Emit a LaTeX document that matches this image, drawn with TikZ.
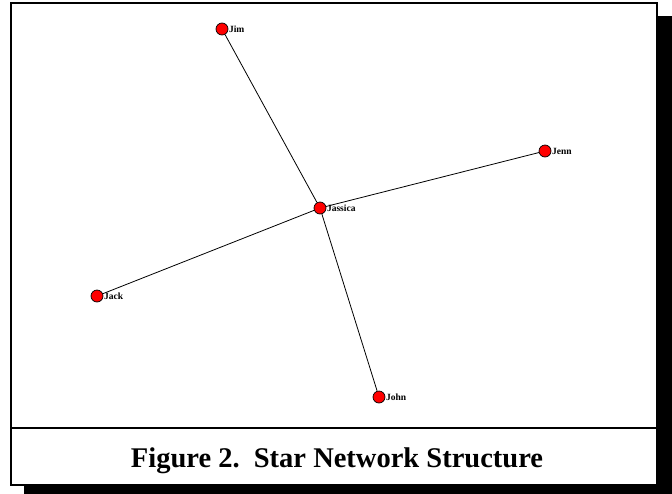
\documentclass[tikz,border=0pt]{standalone}
\usepackage{fontspec}
\setmainfont{Liberation Serif}
\begin{document}
\begin{tikzpicture}[x=1pt,y=-1pt,
  vertex/.style={circle,draw=black,fill=red,line width=0.7pt,minimum size=12pt,inner sep=0pt},
  vlabel/.style={font=\bfseries\fontsize{9.5}{10}\selectfont,anchor=west,inner sep=0pt,xshift=0.5pt},
  edge/.style={line width=0.8pt,black}]
\useasboundingbox (0,0) rectangle (672,493);
% drop shadow and frame
\fill[black] (24,16) rectangle (672,500);
\draw[fill=white,line width=2.2pt] (11,3) rectangle (657,485);
\draw[line width=2.2pt] (11,428) -- (657,428);
% graph
\node[vertex] (jassica) at (320,208) {};
\node[vertex] (jim) at (222,29) {};
\node[vertex] (jenn) at (545,151) {};
\node[vertex] (jack) at (97,296) {};
\node[vertex] (john) at (379,397) {};
\draw[edge] (jassica) -- (jim);
\draw[edge] (jassica) -- (jenn);
\draw[edge] (jassica) -- (jack);
\draw[edge] (jassica) -- (john);
\node[vlabel] at (jassica.east) {Jassica};
\node[vlabel] at (jim.east) {Jim};
\node[vlabel] at (jenn.east) {Jenn};
\node[vlabel] at (jack.east) {Jack};
\node[vlabel] at (john.east) {John};
% caption
\node[font=\bfseries\fontsize{28.5}{32}\selectfont] (cap) at (337,461) {Figure 2.\ \ Star Network Structure};
\end{tikzpicture}
\end{document}
